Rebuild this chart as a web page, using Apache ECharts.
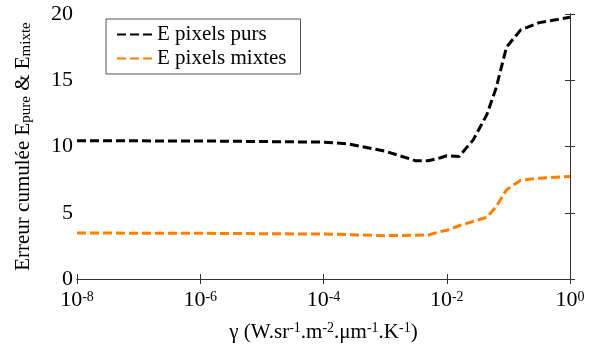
<!DOCTYPE html>
<html>
<head>
<meta charset="utf-8">
<script src="https://cdn.jsdelivr.net/npm/echarts@6/dist/echarts.min.js"></script>
<style>
html,body{margin:0;padding:0;background:#fff;}
#c{width:595px;height:347px;}
</style>
</head>
<body>
<div id="c"></div>
<script>
// gamma exponents (log10 of gamma)
var gammaExp = [-8, -6, -4, -3.6, -3, -2.5, -2.3, -2.1, -2.0, -1.8, -1.57, -1.35, -1.2, -1.03, -0.8, -0.5, 0];
var pursValues = [10.43, 10.42, 10.33, 10.2, 9.65, 8.92, 8.92, 9.15, 9.3, 9.25, 10.5, 12.4, 14.4, 17.5, 18.8, 19.35, 19.75];
var mixtesValues = [3.47, 3.45, 3.39, 3.35, 3.27, 3.3, 3.32, 3.58, 3.68, 4.02, 4.35, 4.65, 5.45, 6.73, 7.45, 7.61, 7.74];
var seriesNames = ['E pixels purs', 'E pixels mixtes'];
var xTickExps = [-8, -6, -4, -2, 0];
var yTicks = [0, 5, 10, 15, 20];

var FONT = 'Liberation Serif';
var AX = '#333';

function pairs(xs, ys) { return xs.map(function (x, i) { return [x, ys[i]]; }); }

var chart = echarts.init(document.getElementById('c'), null, {renderer: 'canvas'});
var baseAxis = {
  axisLine: {show: true, lineStyle: {color: AX, width: 1}},
  axisTick: {show: true, inside: true, length: 5, lineStyle: {color: AX}},
  splitLine: {show: false}
};
chart.setOption({
  animation: false,
  backgroundColor: '#fff',
  textStyle: {fontFamily: FONT},
  grid: {left: 77, right: 25, top: 14, bottom: 68, containLabel: false, outerBoundsMode: 'none'},
  legend: {
    orient: 'vertical', left: 106, top: 19,
    itemWidth: 35, itemHeight: 12, itemGap: 3,
    padding: [5, 14, 5, 10],
    borderColor: '#555', borderWidth: 1, backgroundColor: '#fff',
    itemStyle: {opacity: 0},
    formatter: function (n) { return '{t|' + n + '}'; },
    textStyle: {
      fontFamily: FONT, fontSize: 21, color: '#000',
      rich: {t: {fontFamily: FONT, fontSize: 21, color: '#000', lineHeight: 21}}
    },
    data: seriesNames
  },
  xAxis: [
    Object.assign({}, baseAxis, {
      type: 'value', min: xTickExps[0], max: xTickExps[xTickExps.length - 1], interval: 2,
      position: 'bottom',
      name: '{m|γ (W.sr}{p|-1}{m|.m}{p|-2}{m|.μm}{p|-1}{m|.K}{p|-1}{m|)}',
      nameLocation: 'middle', nameGap: 33,
      nameTextStyle: {
        rich: {
          m: {fontFamily: FONT, fontSize: 21, color: '#000', lineHeight: 22, padding: [6, 0, 0, 0], verticalAlign: 'bottom'},
          p: {fontFamily: FONT, fontSize: 14, color: '#000', lineHeight: 14, verticalAlign: 'top'}
        }
      },
      axisLabel: {
        margin: 11,
        formatter: function (v) { return '{b|10}{s|' + v + '}'; },
        rich: {
          b: {fontFamily: FONT, fontSize: 22, color: '#000', lineHeight: 21, padding: [6, 0, 0, 0], verticalAlign: 'bottom'},
          s: {fontFamily: FONT, fontSize: 14, color: '#000', lineHeight: 13, verticalAlign: 'top'}
        }
      }
    }),
    Object.assign({}, baseAxis, {
      type: 'value', min: xTickExps[0], max: xTickExps[xTickExps.length - 1], interval: 2,
      position: 'top', axisLabel: {show: false}
    })
  ],
  yAxis: [
    Object.assign({}, baseAxis, {
      type: 'value', min: yTicks[0], max: yTicks[yTicks.length - 1], interval: 5,
      position: 'left',
      name: '{m|Erreur cumulée E}{s|pure}{m| & E}{s|mixte}',
      nameLocation: 'middle', nameRotate: 90, nameGap: 43,
      nameTextStyle: {
        rich: {
          m: {fontFamily: FONT, fontSize: 21, color: '#000', lineHeight: 21, verticalAlign: 'top'},
          s: {fontFamily: FONT, fontSize: 15, color: '#000', lineHeight: 15, padding: [20, 0, 0, 0], verticalAlign: 'bottom'}
        }
      },
      axisLabel: {
        margin: 4,
        formatter: function (v) { return '{n|' + v + '}'; },
        rich: {n: {fontFamily: FONT, fontSize: 22, color: '#000', lineHeight: 22}}
      }
    }),
    Object.assign({}, baseAxis, {
      type: 'value', min: yTicks[0], max: yTicks[yTicks.length - 1], interval: 5,
      position: 'right', axisLabel: {show: false}
    })
  ],
  series: [
    {
      name: seriesNames[0], type: 'line', symbol: 'none', smooth: false,
      data: pairs(gammaExp, pursValues),
      lineStyle: {color: '#000', width: 3, type: [9, 4], cap: 'butt'},
      itemStyle: {color: '#000'}
    },
    {
      name: seriesNames[1], type: 'line', symbol: 'none', smooth: false,
      data: pairs(gammaExp, mixtesValues),
      lineStyle: {color: '#ff8000', width: 3, type: [9, 4], cap: 'butt'},
      itemStyle: {color: '#ff8000'}
    }
  ]
});
</script>
</body>
</html>
